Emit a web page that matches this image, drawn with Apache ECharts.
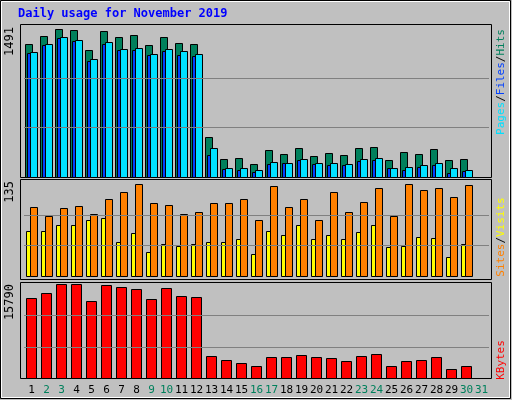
<!DOCTYPE html>
<html><head><meta charset="utf-8">
<script src="https://cdn.jsdelivr.net/npm/echarts@6/dist/echarts.min.js"></script>
<style>html,body{margin:0;padding:0;background:#c0c0c0}#c{width:512px;height:400px}</style>
</head><body><div id="c"></div>
<script>
const days = Array.from({length:31},(_,i)=>String(i+1));
const weekendDays = ['2','3','9','10','16','17','23','24','30','31'];
const hits  = [1339,1420,1491,1481,1278,1471,1410,1430,1329,1410,1349,1339,398,175,186,125,266,226,287,206,236,216,287,297,165,246,226,277,165,175,0];
const files = [1258,1339,1410,1380,1187,1359,1289,1299,1238,1289,1268,1238,287,84,84,64,145,135,175,135,135,125,175,186,84,94,115,135,84,64,0];
const pages = [1248,1329,1400,1369,1167,1339,1278,1278,1228,1268,1228,1218,216,74,64,44,125,135,165,125,115,115,155,165,84,64,94,115,34,54,0];
const sites = [66,66,75,75,82,85,50,63,35,47,45,47,50,51,54,32,66,60,75,54,60,54,65,76,43,45,57,56,29,48,0];
const visits= [101,88,100,103,91,114,123,135,107,104,92,95,107,107,113,82,132,101,114,82,123,95,109,129,88,135,126,129,117,134,0];
const kbytes= [13438,14277,15790,15790,12934,15622,15286,14950,13270,15118,13774,13606,3695,3024,2520,2016,3527,3527,3863,3527,3359,2856,3695,4031,2016,2856,3024,3527,1512,2016,0];
const topTick=1491, midTick=135, botTick=15790;

const mono='DejaVu Sans Mono';
function barSeries(data, gi, off, w, color, order){
  return {type:'custom', xAxisIndex:gi, yAxisIndex:gi, z:order,
    data:data.map((v,i)=>[i,v]),
    renderItem:(p,api)=>{
      const v=api.value(1); if(!v) return;
      const t=api.coord([api.value(0),v]), b=api.coord([api.value(0),0]);
      return {type:'rect', shape:{x:Math.round(t[0]+off)+0.5,y:Math.round(t[1])+0.5,width:w,height:Math.round(b[1])-Math.round(t[1])},
        style:{fill:color,stroke:'#000',lineWidth:1}};
    }};
}
function gridLines(gi,tick){
  return {type:'custom',xAxisIndex:gi,yAxisIndex:gi,data:[],renderItem:()=>{},z:0,
    markLine:{silent:true,symbol:'none',label:{show:false},lineStyle:{color:'#808080',type:'solid',width:1},
      data:[{yAxis:tick/3},{yAxis:tick*2/3}]}};
}
const grids=[{left:24,width:465,top:25,height:151.7},{left:24,width:465,top:180,height:96.3},{left:24,width:465,top:283,height:95.3}];
const maxes=[1534,141.3,16008];
const chart=echarts.init(document.getElementById('c'));
chart.setOption({
  backgroundColor:'#c0c0c0', animation:false,
  grid:grids,
  xAxis:grids.map((g,i)=>({type:'category',gridIndex:i,data:days,axisLine:{show:false},axisTick:{show:false},
    axisLabel:{show:i===2,margin:6,fontFamily:mono,fontSize:11,interval:0,
      color:(v)=>weekendDays.includes(v)?'#00805c':'#000'}})),
  yAxis:maxes.map((m,i)=>({type:'value',gridIndex:i,min:0,max:m,axisLine:{show:false},axisTick:{show:false},axisLabel:{show:false},splitLine:{show:false}})),
  graphic:[
    {type:'rect',shape:{x:0.5,y:0.5,width:510,height:398},style:{fill:null,stroke:'#000',lineWidth:1}},
    {type:'rect',shape:{x:1.5,y:1.5,width:508,height:396},style:{fill:null,stroke:'#fff',lineWidth:1}},
    {type:'rect',shape:{x:20.5,y:24.5,width:471,height:153},style:{fill:null,stroke:'#000',lineWidth:1},z:-1},
    {type:'rect',shape:{x:20.5,y:179.5,width:471,height:100},style:{fill:null,stroke:'#000',lineWidth:1},z:-1},
    {type:'rect',shape:{x:20.5,y:282.5,width:471,height:96},style:{fill:null,stroke:'#000',lineWidth:1},z:-1},
    {type:'text',left:18,top:8,style:{text:'Daily usage for November 2019',fill:'#0000ff',font:'bold 12px "DejaVu Sans Mono"'}},
    {type:'text',x:10,y:27,rotation:Math.PI/2,style:{text:String(topTick),fill:'#000',font:'12px "DejaVu Sans Mono"',align:'right',verticalAlign:'middle'}},
    {type:'text',x:10,y:181,rotation:Math.PI/2,style:{text:String(midTick),fill:'#000',font:'12px "DejaVu Sans Mono"',align:'right',verticalAlign:'middle'}},
    {type:'text',x:10,y:284,rotation:Math.PI/2,style:{text:String(botTick),fill:'#000',font:'12px "DejaVu Sans Mono"',align:'right',verticalAlign:'middle'}},
    {type:'text',x:501,y:82,rotation:Math.PI/2,style:{text:'{p|Pages}{s|/}{f|Files}{s|/}{h|Hits}',align:'center',verticalAlign:'middle',font:'11px "DejaVu Sans Mono"',
      rich:{p:{fill:'#00e0ff',font:'11px "DejaVu Sans Mono"'},f:{fill:'#0040ff',font:'11px "DejaVu Sans Mono"'},h:{fill:'#00805c',font:'11px "DejaVu Sans Mono"'},s:{fill:'#000',font:'11px "DejaVu Sans Mono"'}}}},
    {type:'text',x:501,y:237,rotation:Math.PI/2,style:{text:'{a|Sites}{s|/}{b|Visits}',align:'center',verticalAlign:'middle',font:'11px "DejaVu Sans Mono"',
      rich:{a:{fill:'#ff8000',font:'11px "DejaVu Sans Mono"'},b:{fill:'#ffff00',font:'11px "DejaVu Sans Mono"'},s:{fill:'#000',font:'11px "DejaVu Sans Mono"'}}}},
    {type:'text',x:501,y:360,rotation:Math.PI/2,style:{text:'KBytes',fill:'#ff0000',align:'center',verticalAlign:'middle',font:'11px "DejaVu Sans Mono"'}}
  ],
  series:[
    gridLines(0,topTick),gridLines(1,midTick),gridLines(2,botTick),
    barSeries(hits,0,-6.5,7,'#00805c',2),
    barSeries(pages,0,-4.5,5,'#0040ff',3),
    barSeries(files,0,-1.5,7,'#00e0ff',4),
    barSeries(sites,1,-6,4,'#ffff00',2),
    barSeries(visits,1,-2,7,'#ff8000',3),
    barSeries(kbytes,2,-5.5,10,'#ff0000',2)
  ]
});
</script></body></html>
